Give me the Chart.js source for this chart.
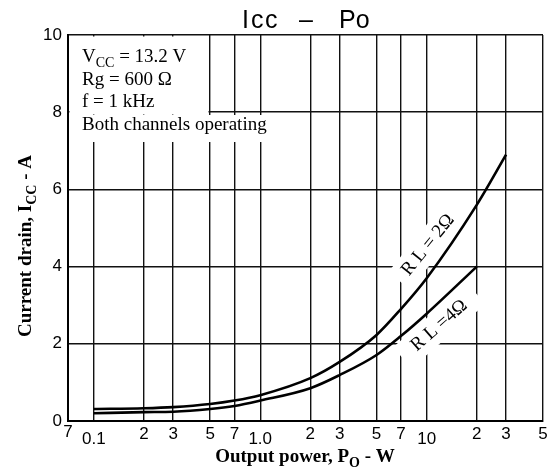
<!DOCTYPE html>
<html>
<head>
<meta charset="utf-8">
<script src="https://cdn.jsdelivr.net/npm/chart.js@4/dist/chart.umd.min.js"></script>
<style>
  html, body { margin: 0; padding: 0; background: #fff; }
  #wrap { width: 550px; height: 469px; }
</style>
</head>
<body>
<div id="wrap"><canvas id="iccChart" width="550" height="469"></canvas></div>
<script>
// Icc - Po : current drain vs output power
const powerW = [0.1, 0.2, 0.3, 0.5, 0.7, 1, 2, 3, 5, 7, 10, 20, 30];
const icc2ohm = [0.31, 0.33, 0.36, 0.44, 0.53, 0.67, 1.11, 1.53, 2.23, 2.9, 3.7, 5.6, 6.9];
const icc4ohm = [0.2, 0.23, 0.24, 0.31, 0.39, 0.53, 0.85, 1.19, 1.71, 2.2, 2.78, 4.0];

const xTicks = [0.07, 0.1, 0.2, 0.3, 0.5, 0.7, 1, 2, 3, 5, 7, 10, 20, 30, 50];
const xTickLabels = ['7', '0.1', '2', '3', '5', '7', '1.0', '2', '3', '5', '7', '10', '2', '3', '5'];
const yTicks = [0, 2, 4, 6, 8, 10];

const notes = ['V|CC| = 13.2 V', 'Rg = 600 Ω', 'f = 1 kHz', 'Both channels operating'];

const serif = '"Liberation Serif", "DejaVu Serif", serif';
const sans = '"Liberation Sans", Arial, sans-serif';

function toPoints(xs, ys) {
    return ys.map((y, i) => ({ x: xs[i], y: y }));
}

// draws text where |...| parts are subscripts
function drawSub(ctx, text, x, y, size, align, weight) {
    const w = weight ? weight + ' ' : '';
    const parts = text.split('|');
    let total = 0;
    parts.forEach((p, i) => {
        ctx.font = w + (i % 2 ? Math.round(size * 0.72) : size) + 'px ' + serif;
        total += ctx.measureText(p).width;
    });
    let cx = align === 'center' ? x - total / 2 : x;
    parts.forEach((p, i) => {
        const sub = i % 2 === 1;
        ctx.font = w + (sub ? Math.round(size * 0.72) : size) + 'px ' + serif;
        ctx.fillText(p, cx, y + (sub ? size * 0.25 : 0));
        cx += ctx.measureText(p).width;
    });
}

const curveLabels = [
    { text: 'R L = 2Ω', x: 10.2, y: 4.56, angle: -51, w: 92 },
    { text: 'R L =4Ω', x: 11.9, y: 2.47, angle: -41, w: 98 }
];

const decorPlugin = {
    id: 'decor',
    beforeDatasetsDraw(chart) {
        const ctx = chart.ctx;
        const a = chart.chartArea;
        const xs = chart.scales.x, ys = chart.scales.y;
        ctx.save();
        ctx.fillStyle = '#fff';
        // blank the grid behind the notes
        ctx.fillRect(a.left + 1.5, a.top + 1.5, 207 - a.left, 78);
        ctx.fillRect(a.left + 1.5, a.top + 80, 266 - a.left, 27);
        // blank behind curve labels
        curveLabels.forEach(l => {
            ctx.save();
            ctx.translate(xs.getPixelForValue(l.x), ys.getPixelForValue(l.y));
            ctx.rotate(l.angle * Math.PI / 180);
            ctx.fillRect(-l.w / 2, -14, l.w, 28);
            ctx.restore();
        });
        ctx.restore();
    },
    afterDatasetsDraw(chart) {
        const ctx = chart.ctx;
        const a = chart.chartArea;
        const xs = chart.scales.x, ys = chart.scales.y;
        ctx.save();
        ctx.fillStyle = '#000';
        ctx.textBaseline = 'alphabetic';
        ctx.textAlign = 'left';

        // notes
        notes.forEach((n, i) => drawSub(ctx, n, 82, 62 + i * 22.7, 19, 'left'));

        // curve labels
        ctx.font = '19px ' + serif;
        ctx.textAlign = 'center';
        ctx.textBaseline = 'middle';
        curveLabels.forEach(l => {
            ctx.save();
            ctx.translate(xs.getPixelForValue(l.x), ys.getPixelForValue(l.y));
            ctx.rotate(l.angle * Math.PI / 180);
            ctx.fillText(l.text, 0, 0);
            ctx.restore();
        });

        // x tick labels
        ctx.font = '17px ' + sans;
        ctx.textBaseline = 'top';
        xTicks.forEach((v, i) => {
            const lbl = xTickLabels[i];
            let top = a.bottom + 5;
            if (lbl === '0.1' || lbl === '1.0' || lbl === '10') top = a.bottom + 10;
            if (i === 0) top = a.bottom + 3;
            ctx.fillText(lbl, xs.getPixelForValue(v), top);
        });

        // title
        ctx.textBaseline = 'alphabetic';
        ctx.textAlign = 'left';
        ctx.font = '25px ' + sans;
        ctx.fillText('I', 242, 28);
        ctx.fillText('c', 251, 28);
        ctx.fillText('c', 265, 28);
        ctx.fillText('–', 299, 28);
        ctx.fillText('Po', 339, 28);

        // axis titles
        drawSub(ctx, 'Output power, P|O| - W', 305, 462, 19, 'center', 'bold');
        ctx.translate(31, 246);
        ctx.rotate(-Math.PI / 2);
        drawSub(ctx, 'Current drain, I|CC| - A', 0, 0, 19, 'center', 'bold');
        ctx.restore();
    }
};

const config = {
    type: 'line',
    data: {
        datasets: [{
            label: 'RL = 2Ω',
            data: toPoints(powerW, icc2ohm),
            borderColor: '#000',
            borderWidth: 2.6,
            pointRadius: 0,
            cubicInterpolationMode: 'monotone',
            fill: false
        }, {
            label: 'RL = 4Ω',
            data: toPoints(powerW, icc4ohm),
            borderColor: '#000',
            borderWidth: 2.6,
            pointRadius: 0,
            cubicInterpolationMode: 'monotone',
            fill: false
        }]
    },
    options: {
        responsive: false,
        animation: false,
        events: [],
        layout: { padding: { top: 35, right: 7, left: 0, bottom: 0 } },
        plugins: {
            legend: { display: false },
            tooltip: { enabled: false },
            title: { display: false }
        },
        scales: {
            x: {
                type: 'logarithmic',
                min: 0.07,
                max: 50,
                afterBuildTicks: scale => {
                    scale.ticks = xTicks.map(v => ({ value: v }));
                },
                afterFit: scale => { scale.height = 48; },
                ticks: { display: false },
                grid: { color: '#111', lineWidth: 1.4, drawTicks: false },
                border: { color: '#000', width: 2 }
            },
            y: {
                min: 0,
                max: 10,
                afterBuildTicks: scale => {
                    scale.ticks = yTicks.map(v => ({ value: v }));
                },
                afterFit: scale => { scale.width = 68; },
                ticks: {
                    color: '#000',
                    padding: 6,
                    font: { family: sans, size: 17 }
                },
                grid: { color: '#111', lineWidth: 1.4, drawTicks: false },
                border: { color: '#000', width: 2 }
            }
        }
    },
    plugins: [decorPlugin]
};

const iccChart = new Chart(document.getElementById('iccChart'), config);
</script>
</body>
</html>
